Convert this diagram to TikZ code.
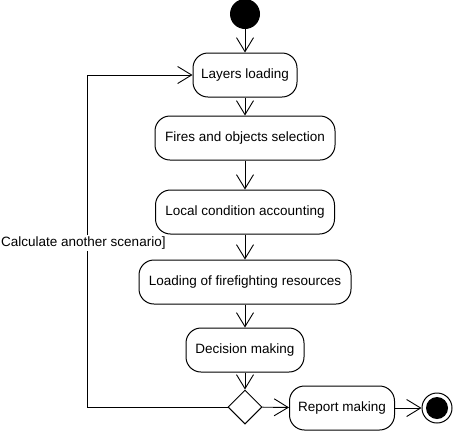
\documentclass[tikz,border=0pt]{standalone}
\usepackage{fontspec}
\setmainfont{Liberation Sans}
\usetikzlibrary{arrows.meta,shapes.geometric}
\begin{document}
\begin{tikzpicture}[x=1pt,y=-1pt,
  font=\fontsize{13.5}{16}\selectfont,
  act/.style={draw, line width=1pt, rounded corners=15pt, minimum height=44pt, inner sep=2pt},
  flow/.style={draw, line width=0.9pt, -{Straight Barb[length=14pt,width=17pt,line width=0.9pt]}},
  plain/.style={draw, line width=0.9pt}]
\useasboundingbox (0,0) rectangle (455,440);
\node[circle, fill=black, minimum size=30pt, inner sep=0pt] (start) at (245,14) {};
\node[act, minimum width=104pt] (layers) at (245,75) {Layers loading};
\node[act, minimum width=180pt] (fires) at (245,138) {Fires and objects selection};
\node[act, minimum width=179pt] (local) at (245,212) {Local condition accounting};
\node[act, minimum width=212pt] (loading) at (245,282) {Loading of firefighting resources};
\node[act, minimum width=118pt] (decision) at (245,350) {Decision making};
\node[diamond, draw, line width=1pt, minimum width=34pt, minimum height=34pt, inner sep=0pt] (dia) at (245,407) {};
\node[act, minimum width=105pt] (report) at (342,408) {Report making};
\node[circle, draw, line width=1pt, minimum size=30pt, inner sep=0pt] (end) at (437,408) {};
\node[circle, fill=black, minimum size=22pt, inner sep=0pt] (endin) at (437,408) {};
\coordinate (cornerA) at (87,407);
\coordinate (cornerB) at (87,75);
\draw[flow] (start) -- (layers);
\draw[flow] (layers) -- (fires);
\draw[flow] (fires) -- (local);
\draw[flow] (local) -- (loading);
\draw[flow] (loading) -- (decision);
\draw[flow] (decision) -- (dia);
\draw[flow] (dia) -- (report);
\draw[flow] (report) -- (end);
\draw[flow] (dia.west) -- (cornerA) -- (cornerB) -- (layers.west);
\node[fill=white, anchor=west, inner xsep=1pt, inner ysep=2pt] (lbl) at (0,243) {Calculate another scenario]};
\end{tikzpicture}
\end{document}
